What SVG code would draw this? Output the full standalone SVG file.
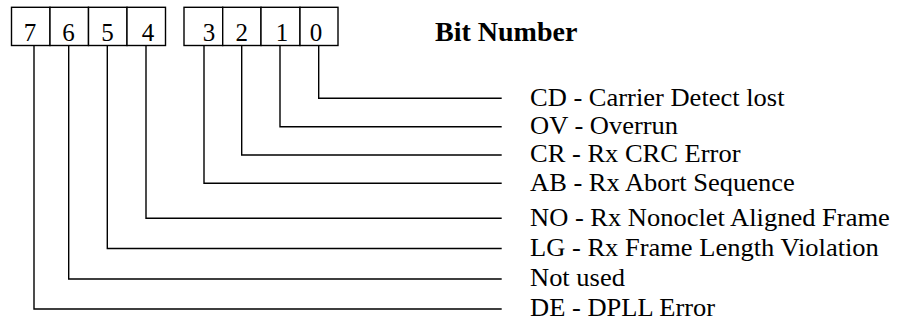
<svg xmlns="http://www.w3.org/2000/svg" width="897" height="326" viewBox="0 0 897 326">
  <style>
    .cell { fill: #ffffff; stroke: #000000; stroke-width: 1.4; }
    .digit { font-family: "Liberation Serif", "Times New Roman", serif; font-size: 25px; fill: #000000; text-anchor: middle; }
    .wire { fill: none; stroke: #000000; stroke-width: 1.4; }
    .label { font-family: "Liberation Serif", "Times New Roman", serif; font-size: 25px; fill: #000000; }
    .title { font-family: "Liberation Serif", "Times New Roman", serif; font-size: 28px; font-weight: bold; fill: #000000; }
  </style>

  <rect width="897" height="326" fill="#ffffff"/>

  <!-- upper nibble: bits 7..4 -->
  <g id="bit7"><rect class="cell" x="11.5" y="7.3" width="38.5" height="38.2"/><text class="digit" x="30" y="40.5">7</text></g>
  <g id="bit6"><rect class="cell" x="50" y="7.3" width="38.5" height="38.2"/><text class="digit" x="68.5" y="40.5">6</text></g>
  <g id="bit5"><rect class="cell" x="88.5" y="7.3" width="38.5" height="38.2"/><text class="digit" x="107.5" y="40.5">5</text></g>
  <g id="bit4"><rect class="cell" x="127" y="7.3" width="38.5" height="38.2"/><text class="digit" x="148" y="40.5">4</text></g>

  <!-- lower nibble: bits 3..0 -->
  <g id="bit3"><rect class="cell" x="184" y="7.3" width="38.7" height="38.2"/><text class="digit" x="209" y="40.5">3</text></g>
  <g id="bit2"><rect class="cell" x="222.7" y="7.3" width="38.3" height="38.2"/><text class="digit" x="241.7" y="40.5">2</text></g>
  <g id="bit1"><rect class="cell" x="261" y="7.3" width="39" height="38.2"/><text class="digit" x="282" y="40.5">1</text></g>
  <g id="bit0"><rect class="cell" x="300" y="7.3" width="38" height="38.2"/><text class="digit" x="316" y="40.5">0</text></g>

  <g id="title"><text class="title" x="435" y="41">Bit Number</text></g>

  <!-- leader lines from each bit to its description -->
  <g id="connectors">
    <polyline class="wire" points="318.7,45.5 318.7,98.3 501.7,98.3"/>
    <polyline class="wire" points="280,45.5 280,126.7 501.7,126.7"/>
    <polyline class="wire" points="241.7,45.5 241.7,155 501.7,155"/>
    <polyline class="wire" points="204,45.5 204,183.3 501.7,183.3"/>
    <polyline class="wire" points="146,45.5 146,218.3 501.7,218.3"/>
    <polyline class="wire" points="107.3,45.5 107.3,248.5 501.7,248.5"/>
    <polyline class="wire" points="68.7,45.5 68.7,279 501.7,279"/>
    <polyline class="wire" points="34,45.5 34,309 501.7,309"/>
  </g>

  <!-- bit descriptions, set slightly wide -->
  <g id="labels" transform="translate(530 0) scale(1.06 1)">
    <text class="label" x="0" y="106">CD - Carrier Detect lost</text>
    <text class="label" x="0" y="134.3">OV - Overrun</text>
    <text class="label" x="0" y="162.5">CR - Rx CRC Error</text>
    <text class="label" x="0" y="191">AB - Rx Abort Sequence</text>
    <text class="label" x="0" y="226">NO - Rx Nonoclet Aligned Frame</text>
    <text class="label" x="0" y="256">LG - Rx Frame Length Violation</text>
    <text class="label" x="0" y="286.5">Not used</text>
    <text class="label" x="0" y="316.5">DE - DPLL Error</text>
  </g>
</svg>
